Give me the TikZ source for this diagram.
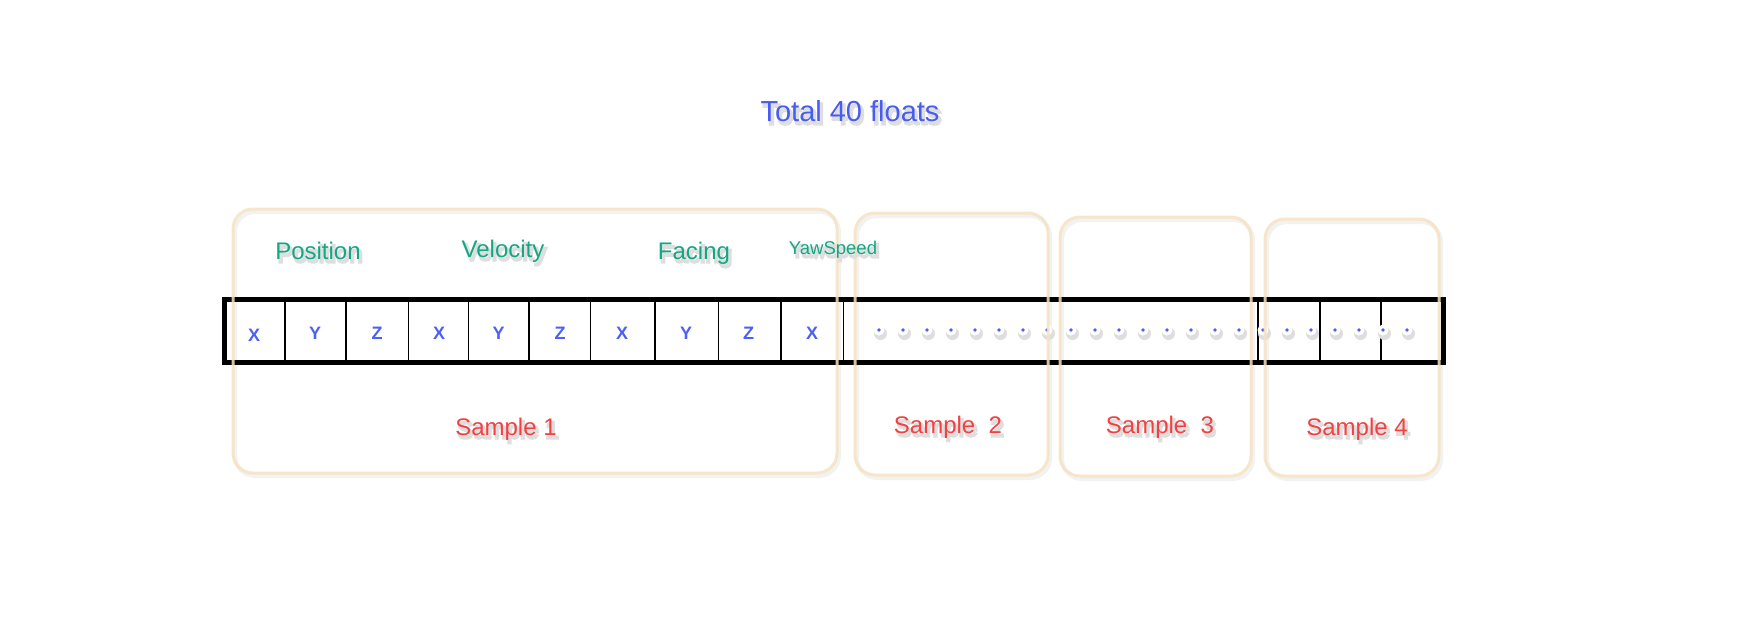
\documentclass[tikz,border=0pt]{standalone}
\usepackage{fontspec}
\setmainfont{Liberation Sans}
\definecolor{boxc}{RGB}{246,226,192}
\definecolor{tgreen}{RGB}{18,168,132}
\definecolor{tred}{RGB}{244,64,64}
\definecolor{tblue}{RGB}{72,92,240}
\definecolor{lblue}{RGB}{76,96,246}
\newcommand\fancytext[2]{\leavevmode
 \rlap{\kern2.2pt\raisebox{-3.4pt}{\textcolor{black!13}{\special{pdf:literal direct 2 Tr 2.2 w}#2\special{pdf:literal direct 0 Tr 1 w}}}}%
 \textcolor{#1}{#2}}
\tikzset{
  samplebox/.style={draw=boxc, line width=3pt, rounded corners=20pt, opacity=0.85},
  boxshadow/.style={draw=black!5, line width=4pt, rounded corners=20pt},
  lbl/.style={inner sep=0pt, anchor=base},
  cellletter/.style={inner sep=0pt, anchor=base, text=lblue, font=\fontsize{18}{20}\selectfont\bfseries},
  divthin/.style={line width=1.4pt},
  divthick/.style={line width=2pt},
}
\begin{document}
\begin{tikzpicture}[x=1pt,y=-1pt]
\useasboundingbox[fill=white] (0,0) rectangle (1743,638);

% title
\node[lbl] (title) at (850,121) {\fontsize{29}{34}\selectfont\fancytext{tblue}{Total 40 floats}};

% box shadows
\draw[boxshadow, shift={(2,3)}] (233,209) rectangle (837,473);
\draw[boxshadow, shift={(2,3)}] (855,213) rectangle (1048,475);
\draw[boxshadow, shift={(2,3)}] (1060,217) rectangle (1251,476);
\draw[boxshadow, shift={(2,3)}] (1265,219) rectangle (1439,476);

% strip
\draw[line width=4.7pt] (224.5,299.3) rectangle (1443.5,362.7);
\foreach \x in {285,346,408.5,468.7,528.8,590.6,654.8,718.7,780.8,843.5,1258}
  \draw[divthin] (\x,301) -- (\x,361);
\foreach \x in {1320,1381}
  \draw[divthick] (\x,301) -- (\x,361);

% letters
\node[cellletter] (c1) at (254,341) {X};
\node[cellletter] (c2) at (315,339.5) {Y};
\node[cellletter] (c3) at (377,339.5) {Z};
\node[cellletter] (c4) at (439,339.5) {X};
\node[cellletter] (c5) at (498.5,339.5) {Y};
\node[cellletter] (c6) at (560,339.5) {Z};
\node[cellletter] (c7) at (622,339.5) {X};
\node[cellletter] (c8) at (686,339.5) {Y};
\node[cellletter] (c9) at (748.5,339.5) {Z};
\node[cellletter] (c10) at (812,339.5) {X};

% dots
\foreach \i in {0,...,22} {
  \fill[black!13] ({879+24*\i+1.5},333.5) circle[radius=6.5pt];
  \fill[white] ({879+24*\i},330) circle[radius=5.5pt];
  \fill[lblue] ({879+24*\i},330) circle[radius=1.9pt];
}

% sample boxes
\draw[samplebox] (233,209) rectangle (837,473);
\draw[samplebox] (855,213) rectangle (1048,475);
\draw[samplebox] (1060,217) rectangle (1251,476);
\draw[samplebox] (1265,219) rectangle (1439,476);

% group labels
\node[lbl] (pos) at (318,259) {\fontsize{24}{28}\selectfont\fancytext{tgreen}{Position}};
\node[lbl] (vel) at (503,257) {\fontsize{24}{28}\selectfont\fancytext{tgreen}{Velocity}};
\node[lbl] (fac) at (694,259) {\fontsize{24}{28}\selectfont\fancytext{tgreen}{Facing}};
\node[lbl] (yaw) at (833,254) {\fontsize{18.5}{22}\selectfont\fancytext{tgreen}{YawSpeed}};

% sample labels
\node[lbl] (s1) at (506,435) {\fontsize{24}{28}\selectfont\fancytext{tred}{Sample 1}};
\node[lbl] (s2) at (948,433) {\fontsize{24}{28}\selectfont\fancytext{tred}{Sample\ \ 2}};
\node[lbl] (s3) at (1160,433) {\fontsize{24}{28}\selectfont\fancytext{tred}{Sample\ \ 3}};
\node[lbl] (s4) at (1357,435) {\fontsize{24}{28}\selectfont\fancytext{tred}{Sample 4}};
\end{tikzpicture}
\end{document}
